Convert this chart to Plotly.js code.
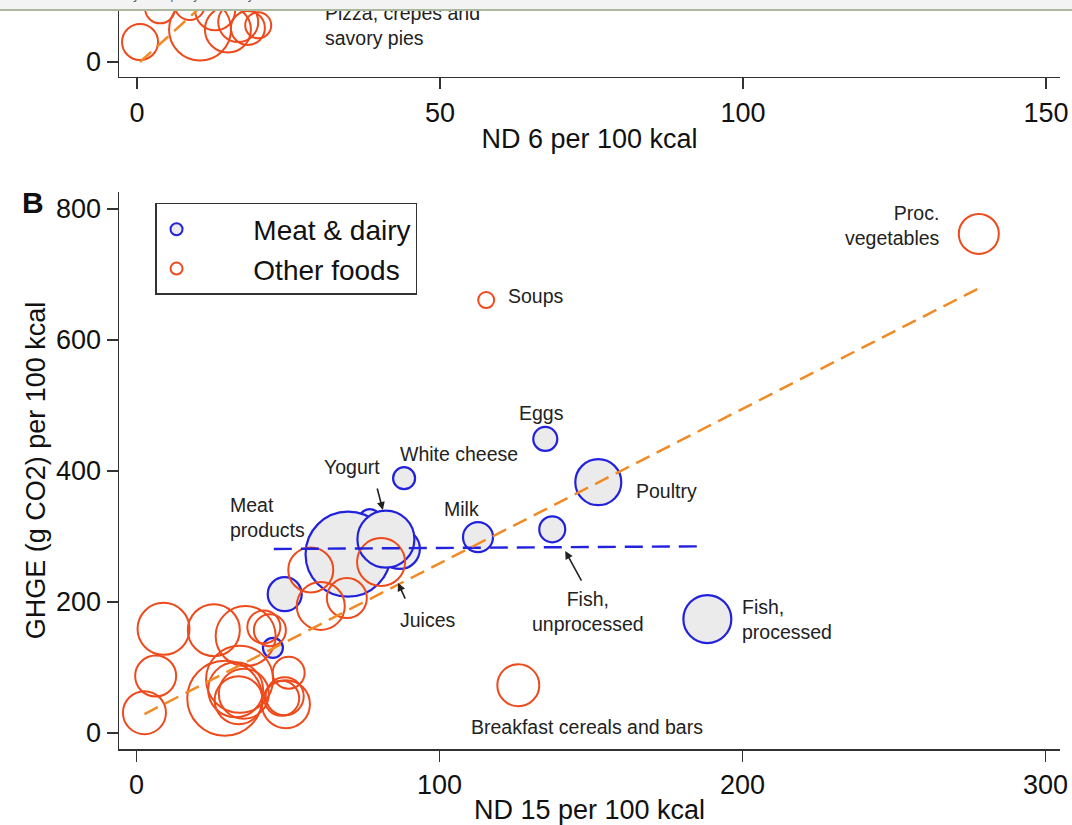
<!DOCTYPE html>
<html>
<head>
<meta charset="utf-8">
<script src="https://cdn.plot.ly/plotly-3.0.1.min.js"></script>
<style>html,body{margin:0;padding:0;background:#fff;}#chart{width:1072px;height:825px;}</style>
</head>
<body>
<div id="chart"></div>
<script>
// ---- Panel B data: Meat & dairy (ND 15 per 100 kcal, GHGE g CO2 per 100 kcal, bubble size) ----
const meatX    = [77.0, 86.9, 69.8, 82.3, 88.3, 134.9, 152.4, 112.7, 137.2, 188.4, 48.9, 45.0];
const meatY    = [325, 281, 273, 296, 389, 449, 383, 299, 311, 174, 212, 130];
const meatSize = [22, 40, 85, 57, 22, 24, 46, 30, 26, 48, 34, 20];

// ---- Panel B data: Other foods ----
const otherX    = [115.4, 278.0, 126.0, 80.7, 57.5, 60.8, 69.4, 8.9, 25.5, 36.0, 42.0, 44.0, 6.3, 2.6, 29.1, 34.0, 33.7, 32.7, 35.4, 50.2, 49.3, 47.9, 48.9];
const otherY    = [661, 762, 73, 261, 249, 194, 206, 159, 157, 148, 162, 157, 87, 31, 53, 82, 50, 66, 60, 92, 44, 53, 56];
const otherSize = [16, 40, 42, 48, 45, 48, 40, 52, 52, 60, 33, 32, 41, 43, 75, 67, 48, 55, 50, 32, 48, 35, 38];

// ---- Panel B fitted lines ----
const fitOtherX = [2.6, 278];
const fitOtherY = [29, 679];
const fitMeatX  = [45.3, 186];
const fitMeatY  = [281, 285];

// ---- Panel A (partially visible) data: ND 6 per 100 kcal ----
const aX    = [0.5, 3.8, 10.4, 15.0, 16.7, 18.3, 20.0, 12.9, 8.7];
const aY    = [30.5, 82, 49.6, 49.6, 61, 52, 56, 79, 87];
const aSize = [36, 30, 62, 46, 40, 34, 26, 40, 30];
const fitAX = [0.5, 16];
const fitAY = [0, 130];

// ---- Tick labels ----
const xTicksB = [0, 100, 200, 300];
const yTicksB = [0, 200, 400, 600, 800];
const xTicksA = [0, 50, 100, 150];
const yTicksA = [0];

const BLUE = '#2222dd', ORANGE = '#ee4a1c', FITOR = '#f28a24', FILL = '#ebebeb', AX = '#333333';
const pad = '\u00a0\u00a0\u00a0\u00a0\u00a0\u00a0\u00a0\u200a';

const traces = [
  {x: meatX, y: meatY, type: 'scatter', mode: 'markers', name: pad + 'Meat & dairy', xaxis: 'x', yaxis: 'y',
   marker: {size: meatSize, sizemode: 'diameter', sizeref: 1, opacity: 1, color: FILL, line: {color: BLUE, width: 2.2}}, legendgroup: 'a'},
  {x: otherX, y: otherY, type: 'scatter', mode: 'markers', name: pad + 'Other foods', xaxis: 'x', yaxis: 'y',
   marker: {size: otherSize, sizemode: 'diameter', sizeref: 1, opacity: 1, color: 'rgba(0,0,0,0)', line: {color: ORANGE, width: 2}}, legendgroup: 'b'},
  {x: fitMeatX, y: fitMeatY, type: 'scatter', mode: 'lines', showlegend: false, xaxis: 'x', yaxis: 'y',
   line: {color: BLUE, width: 2.4, dash: '18px,9px'}},
  {x: fitOtherX, y: fitOtherY, type: 'scatter', mode: 'lines', showlegend: false, xaxis: 'x', yaxis: 'y',
   line: {color: FITOR, width: 2.5, dash: '15px,8px'}},
  {x: aX, y: aY, type: 'scatter', mode: 'markers', showlegend: false, xaxis: 'x2', yaxis: 'y2',
   marker: {size: aSize, sizemode: 'diameter', sizeref: 1, opacity: 1, color: 'rgba(0,0,0,0)', line: {color: ORANGE, width: 2}}},
  {x: fitAX, y: fitAY, type: 'scatter', mode: 'lines', showlegend: false, xaxis: 'x2', yaxis: 'y2',
   line: {color: FITOR, width: 2.5, dash: '15px,8px'}}
];

const axisCommon = {
  ticks: 'outside', ticklen: 11, tickwidth: 1.5, tickcolor: AX,
  showline: true, linecolor: AX, linewidth: 1.5, showgrid: false, zeroline: false,
  tickfont: {size: 27, color: '#111'}, automargin: false, fixedrange: true
};

const lab = (text, x, y, xanchor, extra) => Object.assign({
  text: text, x: x, y: y, xref: 'x', yref: 'y', xanchor: xanchor || 'left', yanchor: 'middle',
  showarrow: false, font: {size: 19.5, color: '#222'}, align: xanchor === 'right' ? 'right' : (xanchor === 'center' ? 'center' : 'left')
}, extra || {});

const arrow = (x, y, ax, ay) => ({
  text: '', x: x, y: y, ax: ax, ay: ay, xref: 'x', yref: 'y', axref: 'x', ayref: 'y',
  showarrow: true, arrowhead: 2, arrowsize: 1, arrowwidth: 1.6, arrowcolor: '#222', standoff: 0, startstandoff: 0
});

const annotations = [
  lab('Proc.<br>vegetables', 265.8, 775, 'right'),
  lab('Soups', 122, 667, 'left'),
  lab('Eggs', 133.6, 488.5, 'center'),
  lab('White cheese', 86.3, 426, 'left'),
  lab('Yogurt', 71.1, 406, 'center'),
  lab('Meat<br>products', 30.1, 329, 'left'),
  lab('Milk', 107.3, 342, 'center'),
  lab('Poultry', 164.3, 369, 'left'),
  lab('Juices', 86.3, 172.5, 'left'),
  lab('Fish,<br>unprocessed', 149.1, 186, 'center'),
  lab('Fish,<br>processed', 199.3, 173.3, 'left'),
  lab('Breakfast cereals and bars', 148.8, 9.2, 'center'),
  arrow(81.3, 340.5, 79.3, 375.6),
  arrow(86.3, 229, 88.9, 203),
  arrow(141.5, 277.9, 147.1, 230.5),
  {text: 'Pizza, crepes and<br>savory pies', x: 30.7, y: 55.7, xref: 'x2', yref: 'y2', xanchor: 'left', yanchor: 'middle',
   showarrow: false, align: 'left', font: {size: 19.5, color: '#222'}},
  {text: '<b>B</b>', x: -0.0914, y: 0.730, xref: 'paper', yref: 'paper', xanchor: 'center', yanchor: 'middle',
   showarrow: false, font: {size: 30, color: '#111'}},
  // browser toolbar strip at the very top of the screenshot
  {text: ' ', x: 0.443, y: 1, xref: 'paper', yref: 'paper', xanchor: 'center', yanchor: 'top',
   width: 1100, height: 9, bgcolor: '#f3f3f3', borderpad: 0, borderwidth: 0, showarrow: false},
  {text: ' ', x: 0.443, y: 1 - 9 / 749, xref: 'paper', yref: 'paper', xanchor: 'center', yanchor: 'top',
   width: 1100, height: 2, bgcolor: '#aab89e', borderpad: 0, borderwidth: 0, showarrow: false},
  {text: 'Mail\u00a0\u00a0\u00a0\u00a0\u00a0\u00a0Web Slice Gallery\u00a0\u00a0\u00a0\u00a0\u00a0\u00a0\u00a0Spotify Web Player', x: -0.1265, y: 1.007, xref: 'paper', yref: 'paper',
   xanchor: 'left', yanchor: 'middle', showarrow: false, font: {size: 12, color: '#555'}}
];

const layout = {
  width: 1072, height: 825,
  margin: {l: 119, r: 12, t: 0, b: 76, pad: 0},
  paper_bgcolor: 'white', plot_bgcolor: 'white',
  font: {family: '"Liberation Sans", Arial, Helvetica, sans-serif', color: '#222'},
  showlegend: true,
  legend: {x: 0.0383, y: 0.729, xanchor: 'left', yanchor: 'top', bordercolor: AX, borderwidth: 1.5,
           bgcolor: 'white', font: {size: 28, color: '#111'}, itemsizing: 'constant', traceorder: 'grouped', tracegroupgap: 0},
  xaxis: Object.assign({}, axisCommon, {domain: [0, 1], anchor: 'y', range: [-5.8, 304.8], tickvals: xTicksB,
           title: {text: 'ND 15 per 100 kcal', font: {size: 27, color: '#111'}, standoff: 2}}),
  yaxis: Object.assign({}, axisCommon, {domain: [0, 0.7437], anchor: 'x', range: [-24.4, 826], tickvals: yTicksB,
           title: {text: 'GHGE (g CO2) per 100 kcal', font: {size: 27, color: '#111'}, standoff: 2}}),
  xaxis2: Object.assign({}, axisCommon, {domain: [0, 1], anchor: 'y2', range: [-2.97, 152.3], tickvals: xTicksA,
           title: {text: 'ND 6 per 100 kcal', font: {size: 27, color: '#111'}, standoff: 2}}),
  yaxis2: Object.assign({}, axisCommon, {domain: [0.8972, 1], anchor: 'x2', range: [-22.9, 94.7], tickvals: yTicksA}),
  annotations: annotations
};

Plotly.newPlot('chart', traces, layout, {displayModeBar: false, staticPlot: true});
</script>
</body>
</html>
